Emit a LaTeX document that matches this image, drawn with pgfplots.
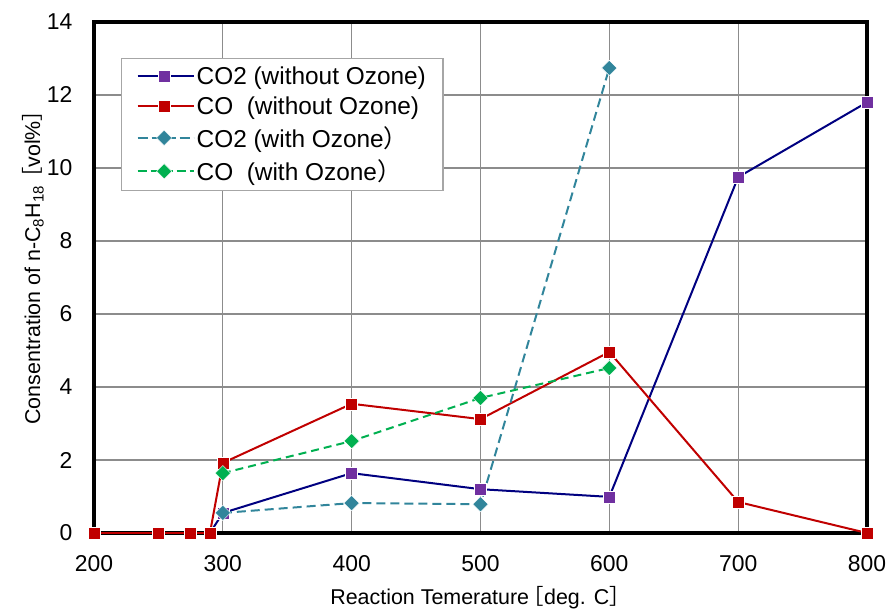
\documentclass[border=0pt]{standalone}
\usepackage{pgfplots}
\pgfplotsset{compat=1.18}
\usepackage{fontspec}
\setmainfont{Liberation Sans}
\newfontfamily\cjk{Noto Sans CJK JP}
\usetikzlibrary{calc}
\definecolor{navyl}{RGB}{0,0,128}
\definecolor{purplem}{RGB}{112,48,160}
\definecolor{redl}{RGB}{192,0,0}
\definecolor{tealc}{RGB}{49,133,155}
\definecolor{greenc}{RGB}{0,176,80}
\begin{document}
\begin{tikzpicture}
\begin{axis}[
  scale only axis, width=773bp, height=511bp,
  xmin=200, xmax=800, ymin=0, ymax=14,
  xtick={200,300,...,800}, ytick={0,2,...,14},
  grid=major, major grid style={black!45, line width=1.1bp},
  axis line style={black, line width=3.5bp},
  tick style={draw=none},
  /pgf/number format/assume math mode=true,
  ticklabel style={font=\fontsize{23}{27}\selectfont},
  xticklabel style={anchor=north, yshift=-19bp},
  yticklabel style={anchor=east, xshift=-18bp},
  label style={font=\fontsize{21.5}{26}\selectfont},
  xlabel={Reaction Temerature{\cjk\kern-0.3em［}deg. C{\cjk ］}},
  ylabel={Consentration of n-C\textsubscript{8}H\textsubscript{18}{\cjk\kern-0.15em［}vol\%{\cjk ］}},
  xlabel style={at={(axis description cs:0.5,-0.127)}, anchor=center},
  ylabel style={at={(axis description cs:-0.079,0.53)}, anchor=center},
  legend style={at={(axis description cs:0.035,0.93)}, anchor=north west,
    draw=gray!70, line width=1.2bp, fill=white,
    font=\fontsize{24.5}{28}\selectfont, row sep=7bp, inner xsep=15bp, inner ysep=6bp},
  legend cell align=left,
  legend image code/.code={\path (0bp,0bp) -- (56bp,0bp); \draw[#1] (1bp,0bp) -- (52bp,0bp); \draw[#1, only marks] plot coordinates {(26.5bp,0bp)};},
]
\addplot[navyl, line width=2bp, mark=square*, mark size=6bp, mark options={solid, fill=purplem, draw=white, line width=0.4bp}]
  coordinates {(200,0) (250,0) (275,0) (290,0) (300,0.55) (400,1.64) (500,1.20) (600,0.99) (700,9.75) (800,11.80)};
\addlegendentry{CO2 (without Ozone)}
\addplot[redl, line width=2bp, mark=square*, mark size=6bp, mark options={solid, fill=redl, draw=white, line width=0.4bp}]
  coordinates {(200,0) (250,0) (275,0) (290,0) (300,1.92) (400,3.54) (500,3.12) (600,4.96) (700,0.85) (800,0)};
\addlegendentry{CO\ \ (without Ozone)}
\addplot[tealc, line width=2bp, dash pattern=on 9bp off 5bp, mark=square*, mark size=5.4bp, mark options={solid, rotate=45, fill=tealc, draw=white, line width=0.4bp}]
  coordinates {(300,0.55) (400,0.82) (500,0.79) (600,12.74)};
\addlegendentry{CO2 (with Ozone{\cjk ）}}
\addplot[greenc, line width=2bp, dash pattern=on 8bp off 5bp, mark=square*, mark size=5.4bp, mark options={solid, rotate=45, fill=greenc, draw=white, line width=0.4bp}]
  coordinates {(300,1.64) (400,2.52) (500,3.70) (600,4.52)};
\addlegendentry{CO\ \ (with Ozone{\cjk ）}}
\coordinate (bl) at (rel axis cs:0,0);
\coordinate (tr) at (rel axis cs:1,1);
\end{axis}
\pgfresetboundingbox
\path ($(bl)+(-94bp,-79bp)$) rectangle ($(tr)+(22bp,22bp)$);
\end{tikzpicture}
\end{document}
